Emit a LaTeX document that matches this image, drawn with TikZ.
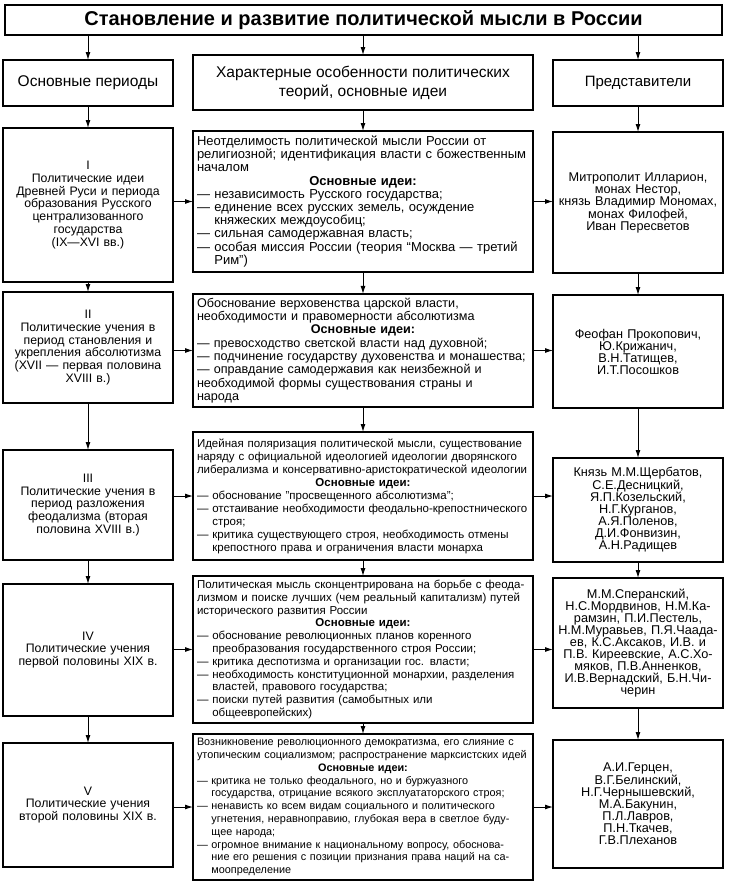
\documentclass[tikz,border=0pt]{standalone}
\usepackage{fontspec}
\setmainfont{Liberation Sans}
\usetikzlibrary{arrows.meta}
\newcommand{\ct}{\hphantom{— }}
\newcommand{\oi}{\makebox[\hsize][c]{\textbf{Основные идеи:}}}
\begin{document}
\begin{tikzpicture}[x=1pt,y=-1pt,
  box/.style={draw, line width=1.5pt, inner sep=4pt, outer sep=0pt},
  lbox/.style={box, minimum width=170pt, text width=162pt, align=center, font=\fontsize{12.3}{12.8}\selectfont},
  rbox/.style={box, minimum width=170pt, text width=162pt, align=center, font=\fontsize{12.7}{12}\selectfont},
  mbox/.style={box, minimum width=340pt, text width=332pt, align=left},
  arr/.style={line width=1pt, -{Latex[length=8pt,width=5pt]}}]
\useasboundingbox (0,0) rectangle (729,886);
% title and headers
\node[box, minimum width=717pt, minimum height=30pt, font=\fontsize{20}{22}\selectfont\bfseries] (title) at (363.5,20) {Становление и развитие политической мысли в России};
\node[box, minimum width=170pt, minimum height=46pt, font=\fontsize{15.5}{18}\selectfont] (lh) at (88,83) {Основные периоды};
\node[box, minimum width=340pt, minimum height=55pt, align=center, font=\fontsize{15.5}{19}\selectfont] (mh) at (363,82.5) {Характерные особенности политических\\теорий, основные идеи};
\node[box, minimum width=170pt, minimum height=46pt, font=\fontsize{15}{18}\selectfont] (rh) at (638,83) {Представители};
% row I
\node[lbox, minimum height=154pt] (l1) at (88,205) {I\\Политические идеи\\Древней Руси и периода\\образования Русского\\централизованного\\государства\\(IX—XVI вв.)};
\node[mbox, minimum height=141pt, font=\fontsize{13}{13.2}\selectfont] (m1) at (363,201.5) {Неотделимость политической мысли России от\\религиозной; идентификация власти с божественным\\началом\\\oi\\— независимость Русского государства;\\— единение всех русских земель, осуждение\\\ct княжеских междоусобиц;\\— сильная самодержавная власть;\\— особая миссия России (теория “Москва — третий\\\ct Рим”)};
\node[rbox, minimum height=141pt] (r1) at (638,202.5) {Митрополит Илларион,\\монах Нестор,\\князь Владимир Мономах,\\монах Филофей,\\Иван Пересветов};
% row II
\node[lbox, minimum height=111pt] (l2) at (88,347.5) {II\\Политические учения в\\период становления и\\укрепления абсолютизма\\(XVII — первая половина\\XVIII в.)};
\node[mbox, minimum height=111pt, font=\fontsize{12.6}{13.3}\selectfont] (m2) at (363,350.5) {Обоснование верховенства царской власти,\\необходимости и правомерности абсолютизма\\\oi\\— превосходство светской власти над духовной;\\— подчинение государству духовенства и монашества;\\— оправдание самодержавия как неизбежной и\\необходимой формы существования страны и\\народа};
\node[rbox, minimum height=113pt] (r2) at (638,351.5) {Феофан Прокопович,\\Ю.Крижанич,\\В.Н.Татищев,\\И.Т.Посошков};
% row III
\node[lbox, minimum height=110pt] (l3) at (88,505) {III\\Политические учения в\\период разложения\\феодализма (вторая\\половина XVIII в.)};
\node[mbox, minimum height=128pt, font=\fontsize{11.5}{13}\selectfont] (m3) at (363,496) {Идейная поляризация политической мысли, существование\\наряду с официальной идеологией идеологии дворянского\\либерализма и консервативно-аристократической идеологии\\\oi\\— обоснование "просвещенного абсолютизма";\\— отстаивание необходимости феодально-крепостнического\\\ct строя;\\— критика существующего строя, необходимость отмены\\\ct крепостного права и ограничения власти монарха};
\node[rbox, minimum height=104pt] (r3) at (638,510) {Князь М.М.Щербатов,\\С.Е.Десницкий,\\Я.П.Козельский,\\Н.Г.Курганов,\\А.Я.Поленов,\\Д.И.Фонвизин,\\А.Н.Радищев};
% row IV
\node[lbox, minimum height=132pt] (l4) at (88,650) {IV\\Политические учения\\первой половины XIX в.};
\node[mbox, minimum height=145pt, font=\fontsize{11.5}{12.8}\selectfont] (m4) at (363,649.5) {Политическая мысль сконцентрирована на борьбе с феода-\\лизмом и поиске лучших (чем реальный капитализм) путей\\исторического развития России\\\oi\\— обоснование революционных планов коренного\\\ct преобразования государственного строя России;\\— критика деспотизма и организации гос. власти;\\— необходимость конституционной монархии, разделения\\\ct властей, правового государства;\\— поиски путей развития (самобытных или\\\ct общеевропейских)};
\node[rbox, minimum height=130pt] (r4) at (638,643) {М.М.Сперанский,\\Н.С.Мордвинов, Н.М.Ка-\\рамзин, П.И.Пестель,\\Н.М.Муравьев, П.Я.Чаада-\\ев, К.С.Аксаков, И.В. и\\П.В. Киреевские, А.С.Хо-\\мяков, П.В.Анненков,\\И.В.Вернадский, Б.Н.Чи-\\черин};
% row V
\node[lbox, minimum height=124pt] (l5) at (88,805) {V\\Политические учения\\второй половины XIX в.};
\node[mbox, minimum height=146pt, font=\fontsize{10.85}{12.8}\selectfont] (m5) at (363,807) {Возникновение революционного демократизма, его слияние с\\утопическим социализмом; распространение марксистских идей\\\oi\\— критика не только феодального, но и буржуазного\\\ct государства, отрицание всякого эксплуататорского строя;\\— ненависть ко всем видам социального и политического\\\ct угнетения, неравноправию, глубокая вера в светлое буду-\\\ct щее народа;\\— огромное внимание к национальному вопросу, обоснова-\\\ct ние его решения с позиции признания права наций на са-\\\ct моопределение};
\node[rbox, minimum height=128pt] (r5) at (638,804) {А.И.Герцен,\\В.Г.Белинский,\\Н.Г.Чернышевский,\\М.А.Бакунин,\\П.Л.Лавров,\\П.Н.Ткачев,\\Г.В.Плеханов};
% arrows from title
\foreach \h in {lh,mh,rh} \draw[arr] (title.south -| \h.north) -- (\h.north);
% vertical arrows
\foreach \c in {l,m,r} {
  \draw[arr] (\c h.south) -- (\c 1.north);
  \draw[arr] (\c 1.south) -- (\c 2.north);
  \draw[arr] (\c 2.south) -- (\c 3.north);
  \draw[arr] (\c 3.south) -- (\c 4.north);
  \draw[arr] (\c 4.south) -- (\c 5.north);
}
% horizontal arrows
\foreach \i in {1,...,5} {
  \draw[arr] (m\i.west -| l\i.east) -- (m\i.west);
  \draw[arr] (m\i.east) -- (m\i.east -| r\i.west);
}
\end{tikzpicture}
\end{document}
